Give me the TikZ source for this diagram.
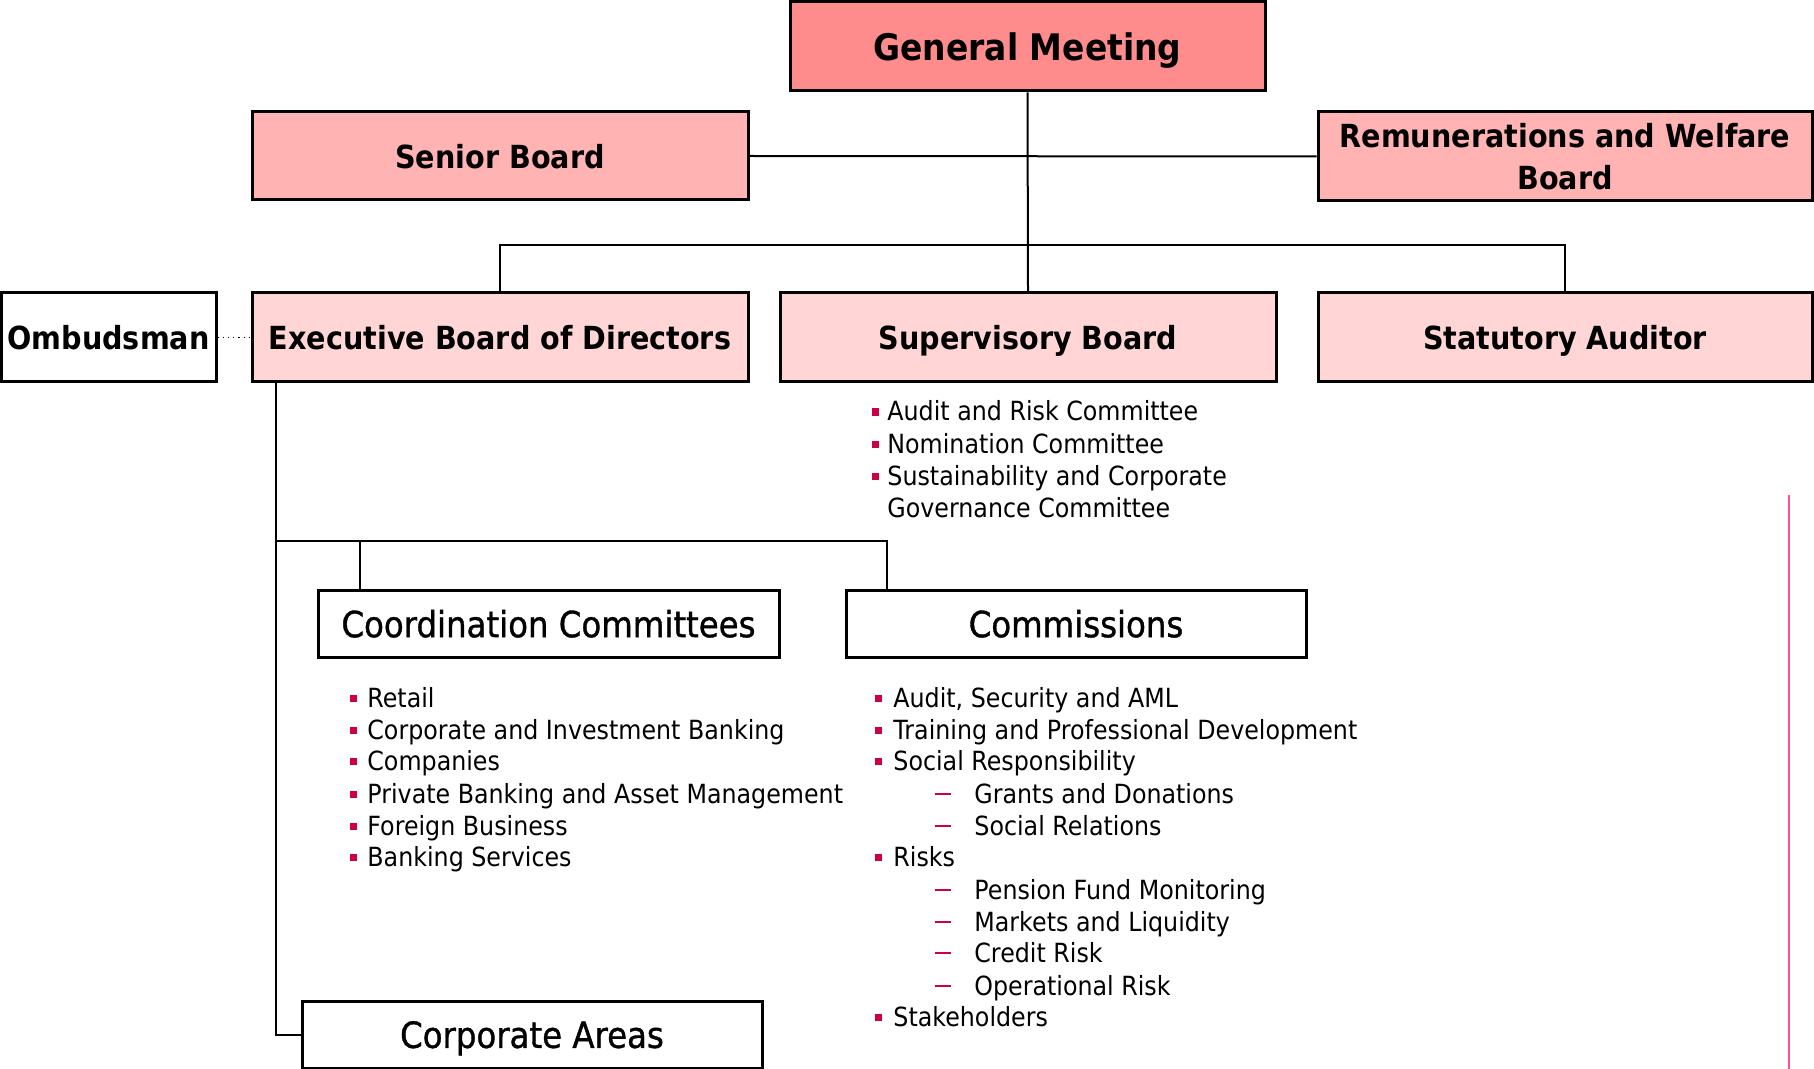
\documentclass[tikz,border=0pt]{standalone}
\usepackage{fontspec}
\setmainfont{DejaVu Sans}[FakeStretch=0.9]
\newfontfamily\lowfont{DejaVu Sans}[FakeStretch=0.9,FakeBold=1]
\definecolor{gmfill}{RGB}{255,140,140}
\definecolor{midpink}{RGB}{255,179,179}
\definecolor{lightpink}{RGB}{255,213,213}
\definecolor{bulletred}{RGB}{204,0,68}
\definecolor{sidepink}{RGB}{255,80,160}
\begin{document}
\begin{tikzpicture}[x=0.5pt,y=-0.5pt,
  box/.style={draw=black, line width=1.5pt, inner sep=0pt, align=center, text depth=0pt},
  wh/.style 2 args={minimum width=#1*0.5pt, minimum height=#2*0.5pt},
  tbold/.style={font=\bfseries\fontsize{15.9}{21}\selectfont},
  tgm/.style={font=\bfseries\fontsize{18.3}{23}\selectfont},
  tlow/.style={font=\lowfont\fontsize{18}{21}\selectfont},
  item/.style={anchor=base west, inner sep=0pt, font=\fontsize{13.2}{16}\selectfont},
  conn/.style={draw=black, line width=1pt},
  bul/.style={fill=bulletred},
  dsh/.style={draw=bulletred, line width=0.7pt}
]
\useasboundingbox (0,0) rectangle (1814,1069);

% boxes
\node[box, wh={475}{89}, fill=gmfill, tgm] (gm) at (1027.5,46.5) {General Meeting};
\node[box, wh={496}{88}, fill=midpink, tbold] (senior) at (500,156) {Senior Board};
\node[box, wh={494}{89}, fill=midpink, tbold] (remun) at (1565,156.5) {Remunerations and Welfare\\Board};
\node[box, wh={215}{89}, fill=white, tbold] (omb) at (108.5,337.5) {Ombudsman};
\node[box, wh={496}{89}, fill=lightpink, tbold] (exec) at (500,337.5) {Executive Board of Directors};
\node[box, wh={496}{89}, fill=lightpink, tbold] (sup) at (1028,337.5) {Supervisory Board};
\node[box, wh={494}{89}, fill=lightpink, tbold] (stat) at (1565,337.5) {Statutory Auditor};
\node[box, wh={461}{67}, fill=white, tlow] (coord) at (548.5,623.5) {Coordination Committees};
\node[box, wh={460}{67}, fill=white, tlow] (comm) at (1076,623.5) {Commissions};
\node[box, wh={460}{67}, fill=white, tlow] (corp) at (532,1034.5) {Corporate Areas};

% connectors
\draw[conn] (gm.south) -- (sup.north);
\draw[conn] (senior.east) -- (remun.west);
\coordinate (hl) at (500,245);
\coordinate (hr) at (1565,245);
\draw[conn] (exec.north) -- (hl) -- (hr) -- (stat.north);
\draw[black, line width=0.6pt, dotted] (omb.east) -- (exec.west);
\coordinate (ev) at (276,382);
\coordinate (eb) at (276,1034.5);
\draw[conn] (ev) -- (eb) -- (corp.west);
\coordinate (bl) at (276,541);
\coordinate (bc) at (360,541);
\coordinate (br) at (887,541);
\draw[conn] (bl) -- (br) -- (comm.north -| br);
\draw[conn] (bc) -- (bc |- coord.north);
\draw[black, line width=1.3pt] (bl) -- (377,541);

% Supervisory list
\foreach \yy/\tt/\b in {412/Audit and Risk Committee/1, 444/Nomination Committee/1, 476/Sustainability and Corporate/1, 508/Governance Committee/0}{
  \node[item] (s\yy) at (887,\yy+9) {\tt};
  \ifnum\b=1 \fill[bul] (872,\yy-3.5) rectangle (879,\yy+3.5); \fi
}

% Coordination list
\foreach \yy/\tt in {698/Retail, 730/Corporate and Investment Banking, 761/Companies, 794/Private Banking and Asset Management, 826/Foreign Business, 857/Banking Services}{
  \node[item] (c\yy) at (367,\yy+9) {\tt};
  \fill[bul] (350,\yy-3.5) rectangle (357,\yy+3.5);
}

% Commissions list
\foreach \yy/\tt in {698/{Audit, Security and AML}, 730/Training and Professional Development, 761/Social Responsibility, 857/Risks, 1017/Stakeholders}{
  \node[item] (m\yy) at (893,\yy+9) {\tt};
  \fill[bul] (875,\yy-3.5) rectangle (882,\yy+3.5);
}
\foreach \yy/\tt in {794/Grants and Donations, 826/Social Relations, 890/Pension Fund Monitoring, 922/Markets and Liquidity, 953/Credit Risk, 986/Operational Risk}{
  \node[item] (d\yy) at (974,\yy+9) {\tt};
  \draw[dsh] (935,\yy) -- (951,\yy);
}

% right pink line
\draw[sidepink, line width=1pt] (1789,495) -- (1789,1069);
\end{tikzpicture}
\end{document}
